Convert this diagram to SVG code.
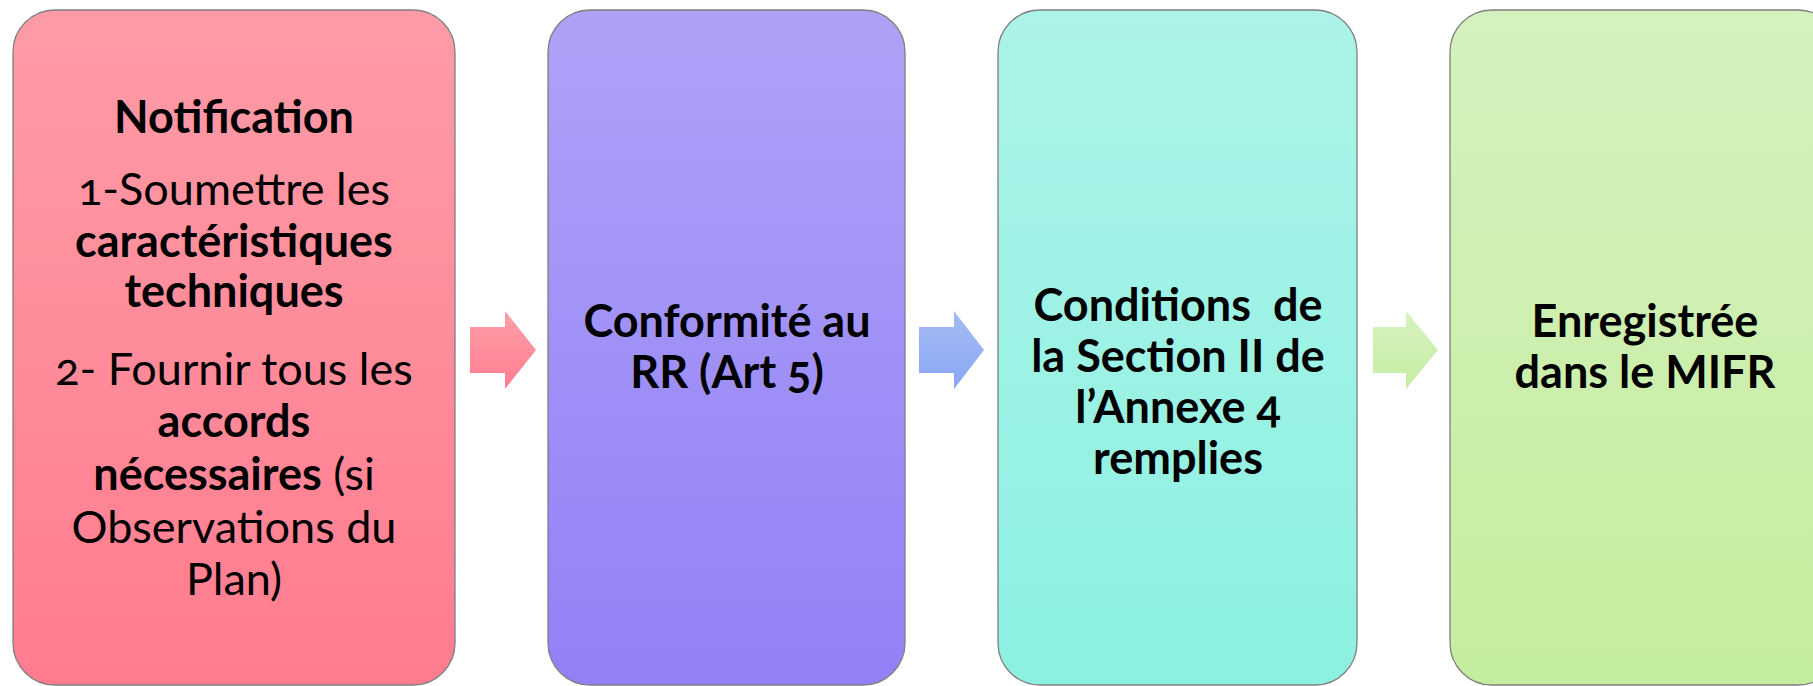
<svg xmlns="http://www.w3.org/2000/svg" width="1813" height="686" viewBox="0 0 1813 686">
<defs>
<linearGradient id="g1" x1="0" y1="0" x2="0" y2="1"><stop offset="0" stop-color="#FE9BA7"/><stop offset="1" stop-color="#FF7C8E"/></linearGradient>
<linearGradient id="g2" x1="0" y1="0" x2="0" y2="1"><stop offset="0" stop-color="#AEA2F7"/><stop offset="1" stop-color="#9280F7"/></linearGradient>
<linearGradient id="g3" x1="0" y1="0" x2="0" y2="1"><stop offset="0" stop-color="#ACF3E9"/><stop offset="1" stop-color="#8CF1E1"/></linearGradient>
<linearGradient id="g4" x1="0" y1="0" x2="0" y2="1"><stop offset="0" stop-color="#D5F1BE"/><stop offset="1" stop-color="#C5ED9F"/></linearGradient>
<linearGradient id="a1" x1="0" y1="0" x2="0" y2="1"><stop offset="0" stop-color="#FF9EA9"/><stop offset="1" stop-color="#FF7E8F"/></linearGradient>
<linearGradient id="a2" x1="0" y1="0" x2="0" y2="1"><stop offset="0" stop-color="#A5BCF3"/><stop offset="1" stop-color="#88A6F5"/></linearGradient>
<linearGradient id="a3" x1="0" y1="0" x2="0" y2="1"><stop offset="0" stop-color="#D6F2C0"/><stop offset="1" stop-color="#C6EDA2"/></linearGradient>
</defs>
<style>
.box{stroke:#7f7f7f;stroke-width:1.3}
text{font-family:Lato,"Open Sans","Liberation Sans",sans-serif;font-size:45px;fill:#000;text-anchor:middle;font-variant-numeric:oldstyle-nums}
.b{font-weight:bold}
</style>
<rect width="1813" height="686" fill="#fff"/>
<g id="connectors">
<polygon points="470,327 505,327 505,311 536,350 505,389 505,373 470,373" fill="url(#a1)"/>
<polygon points="919,327 954,327 954,311 984,350 954,389 954,373 919,373" fill="url(#a2)"/>
<polygon points="1373,327 1406,327 1406,311 1438,350 1406,389 1406,373 1373,373" fill="url(#a3)"/>
</g>
<g id="node1">
<rect class="box" x="13" y="10" width="442" height="675" rx="42" fill="url(#g1)"/>
<text x="234" y="133" class="b">Notification</text>
<text x="234" y="205">1-Soumettre les</text>
<text x="234" y="257" class="b">caractéristiques</text>
<text x="234" y="307" class="b">techniques</text>
<text x="234" y="385">2- Fournir tous les</text>
<text x="234" y="437" class="b">accords</text>
<text x="234" y="490"><tspan class="b">nécessaires</tspan> (si</text>
<text x="234" y="543">Observations du</text>
<text x="234" y="595">Plan)</text>
</g>
<g id="node2">
<rect class="box" x="548" y="10" width="357" height="675" rx="42" fill="url(#g2)"/>
<text x="727" y="337" class="b">Conformité au</text>
<text x="727" y="388" class="b">RR (Art 5)</text>
</g>
<g id="node3">
<rect class="box" x="998" y="10" width="359" height="675" rx="42" fill="url(#g3)"/>
<text x="1178" y="321" class="b" xml:space="preserve">Conditions  de</text>
<text x="1178" y="372" class="b">la Section II de</text>
<text x="1178" y="423" class="b">l’Annexe 4</text>
<text x="1178" y="474" class="b">remplies</text>
</g>
<g id="node4">
<rect class="box" x="1450" y="10" width="390" height="675" rx="42" fill="url(#g4)"/>
<text x="1645" y="337" class="b">Enregistrée</text>
<text x="1645" y="388" class="b">dans le MIFR</text>
</g>
</svg>
